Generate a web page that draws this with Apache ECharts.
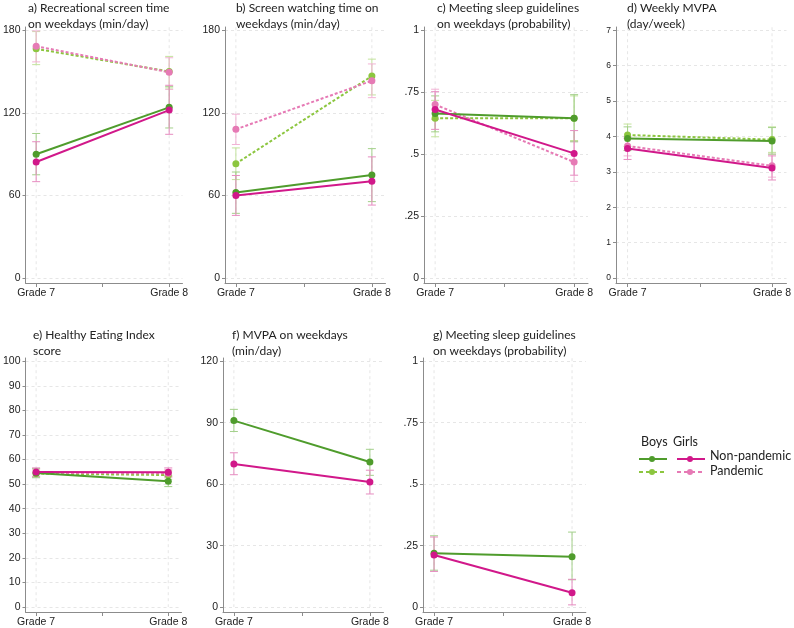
<!DOCTYPE html>
<html>
<head>
<meta charset="utf-8">
<script src="https://cdn.jsdelivr.net/npm/echarts@6/dist/echarts.min.js"></script>
<style>html,body{margin:0;background:#fff}#main{width:794px;height:628px}</style>
</head>
<body>
<div id="main"></div>
<script>
// grades on the x axis, one panel per outcome
var grades = ['Grade 7', 'Grade 8'];
var titles = [
    'a) Recreational screen time\non weekdays (min/day)',
    'b) Screen watching time on\nweekdays (min/day)',
    'c) Meeting sleep guidelines\non weekdays (probability)',
    'd) Weekly MVPA\n(day/week)',
    'e) Healthy Eating Index\nscore',
    'f) MVPA on weekdays\n(min/day)',
    'g) Meeting sleep guidelines\non weekdays (probability)'
];
var yTicks = [
    [0, 60, 120, 180],
    [0, 60, 120, 180],
    [0, 0.25, 0.5, 0.75, 1],
    [0, 1, 2, 3, 4, 5, 6, 7],
    [0, 10, 20, 30, 40, 50, 60, 70, 80, 90, 100],
    [0, 30, 60, 90, 120],
    [0, 0.25, 0.5, 0.75, 1]
];

// estimates per panel [grade 7, grade 8]; null = not shown
var boysNP      = [[89.9, 124.0], [62.1, 74.9], [0.664, 0.645], [3.94, 3.87], [54.5, 51.2], [91.0, 70.8], [0.219, 0.205]];
var boysNPLow   = [[75, 109], [47, 55.5], [0.59, 0.55], [3.6, 3.5], [52.6, 49], [85.7, 64.3], [0.15, 0.111]];
var boysNPHigh  = [[105, 139], [77, 94], [0.735, 0.74], [4.27, 4.25], [56.4, 53.4], [96.5, 77], [0.29, 0.305]];
var girlsNP     = [[84.3, 122.0], [59.9, 70.3], [0.68, 0.503], [3.66, 3.11], [54.9, 54.8], [69.8, 61.0], [0.212, 0.058]];
var girlsNPLow  = [[70, 104.4], [45.5, 53], [0.60, 0.415], [3.35, 2.77], [53.2, 53], [64.6, 55.2], [0.145, 0.009]];
var girlsNPHigh = [[99, 140], [74.5, 88], [0.752, 0.595], [3.95, 3.45], [56.6, 56.6], [75.3, 66.8], [0.285, 0.113]];
var boysP       = [[166.5, 150.0], [83.1, 146.7], [0.645, 0.645], [4.04, 3.91], [54.3, 53.7], null, null];
var boysPLow    = [[155, 138], [71.5, 133], [0.57, 0.555], [3.72, 3.55], [52.8, 52], null, null];
var boysPHigh   = [[179, 161], [94.5, 159], [0.717, 0.735], [4.35, 4.27], [55.8, 55.4], null, null];
var girlsP      = [[168.4, 149.5], [108.0, 143.3], [0.70, 0.468], [3.73, 3.17], [54.6, 54.4], null, null];
var girlsPLow   = [[157, 137], [97, 131], [0.64, 0.39], [3.45, 2.85], [53, 52.8], null, null];
var girlsPHigh  = [[179.5, 160], [119, 155.5], [0.762, 0.55], [4.0, 3.5], [56.2, 56], null, null];

var cGreen = '#4f9c2c', cLightGreen = '#8cc63f', cMagenta = '#d1188a', cPink = '#e67ab5';
var ciGreen = '#a3d08a', ciLightGreen = '#c3e39c', ciMagenta = '#e68cc0', ciPink = '#f2b3d5';
var axisGrey = '#8c8c8c', gridGrey = '#e6e6e6';

// panel boxes: [left, x of Grade 7, x of Grade 8, top]
var boxes = [[22, 33, 169, 27], [225, 236, 372, 27], [424, 436, 575, 27], [616, 628, 777, 27],
             [21, 32, 168, 358], [223, 234, 370, 358], [423, 434, 572, 358]];
var titlePos = [[28, 0], [236, 0], [437, 0], [627, 0], [33, 327], [232, 327], [433, 327]];

function fmt(v) { return String(v).replace(/^0\./, '.'); }

function errorBars(i, lows, highs, color, z) {
    return {
        type: 'custom', xAxisIndex: i, yAxisIndex: i, silent: true, z: z,
        encode: { x: 0, y: [1, 2] },
        data: lows.map(function(l, k) { return [k, l, highs[k]]; }),
        renderItem: function(params, api) {
            var lo = api.coord([api.value(0), api.value(1)]),
                hi = api.coord([api.value(0), api.value(2)]),
                w = 4, st = { stroke: color, lineWidth: 1 };
            return { type: 'group', children: [
                { type: 'line', shape: { x1: lo[0], y1: lo[1], x2: hi[0], y2: hi[1] }, style: st },
                { type: 'line', shape: { x1: lo[0] - w, y1: lo[1], x2: lo[0] + w, y2: lo[1] }, style: st },
                { type: 'line', shape: { x1: hi[0] - w, y1: hi[1], x2: hi[0] + w, y2: hi[1] }, style: st }
            ]};
        }
    };
}

function lineSeries(i, vals, color, dashed, z) {
    return {
        type: 'line', xAxisIndex: i, yAxisIndex: i, silent: true, z: z,
        data: vals.map(function(v, k) { return [k, v]; }),
        symbol: 'circle', symbolSize: 7,
        lineStyle: { color: color, width: 2, type: dashed ? [3, 2] : 'solid' },
        itemStyle: { color: color }
    };
}

var grids = [], xAxes = [], yAxes = [], series = [], titleOpts = [];

boxes.forEach(function(b, i) {
    var unit = b[2] - b[1], ticks = yTicks[i],
        lo = ticks[0], hi = ticks[ticks.length - 1], r = hi - lo;
    grids.push({ left: b[0], top: b[3], width: unit * 1.18, height: 256 });
    xAxes.push({
        gridIndex: i, type: 'value', min: -0.08, max: 1.1,
        axisLine: { onZero: false, lineStyle: { color: axisGrey } },
        axisTick: { customValues: [0, 0.5, 1], length: 4, lineStyle: { color: axisGrey } },
        axisLabel: { customValues: [0, 1], margin: 5, color: '#222', fontSize: 10.5, fontFamily: 'Liberation Sans',
                     formatter: function(v) { return grades[Math.round(v)]; } },
        splitLine: { show: false }
    });
    yAxes.push({
        gridIndex: i, type: 'value', min: lo - r * 0.02, max: hi + r * 0.013,
        axisLine: { show: true, onZero: false, lineStyle: { color: axisGrey } },
        axisTick: { show: true, customValues: ticks, length: 3, lineStyle: { color: axisGrey } },
        axisLabel: { customValues: ticks, margin: 5, color: '#222', fontFamily: 'Liberation Sans',
                     fontSize: i === 3 ? 8.5 : 10.5, formatter: fmt },
        splitLine: { show: true, lineStyle: { color: gridGrey, type: [3, 3] } }
    });
    titleOpts.push({
        text: titles[i], left: titlePos[i][0], top: titlePos[i][1], padding: 0,
        textStyle: { fontFamily: 'Lato', fontWeight: 'normal', fontSize: 12, lineHeight: 16, color: '#222' }
    });

    // vertical grid lines at both grades
    series.push({
        type: 'custom', xAxisIndex: i, yAxisIndex: i, silent: true, z: 0,
        data: [[0], [1]],
        renderItem: function(params, api) {
            var p1 = api.coord([api.value(0), hi]), p2 = api.coord([api.value(0), lo]);
            return { type: 'line', shape: { x1: p1[0], y1: p1[1] - 3, x2: p2[0], y2: p2[1] },
                     style: { stroke: gridGrey, lineWidth: 1, lineDash: [3, 3] } };
        }
    });

    if (boysP[i]) series.push(errorBars(i, boysPLow[i], boysPHigh[i], ciLightGreen, 1));
    if (girlsP[i]) series.push(errorBars(i, girlsPLow[i], girlsPHigh[i], ciPink, 1));
    series.push(errorBars(i, boysNPLow[i], boysNPHigh[i], ciGreen, 1));
    series.push(errorBars(i, girlsNPLow[i], girlsNPHigh[i], ciMagenta, 1));
    if (boysP[i]) series.push(lineSeries(i, boysP[i], cLightGreen, true, 2));
    if (girlsP[i]) series.push(lineSeries(i, girlsP[i], cPink, true, 2));
    series.push(lineSeries(i, boysNP[i], cGreen, false, 3));
    series.push(lineSeries(i, girlsNP[i], cMagenta, false, 3));
});

// legend, drawn by hand in the empty eighth cell
function legendKey(x, y, color, dashed) {
    return [
        { type: 'line', shape: { x1: x, y1: y, x2: x + 28, y2: y },
          style: { stroke: color, lineWidth: 2, lineDash: dashed ? [4, 3] : null } },
        { type: 'circle', shape: { cx: x + 13, cy: y, r: 3 }, style: { fill: color } }
    ];
}
var legendFont = { fontFamily: 'Lato', fontSize: 12.5, fill: '#222' };
var graphic = [].concat(
    legendKey(639, 459, cGreen, false), legendKey(677, 459, cMagenta, false),
    legendKey(639, 472, cLightGreen, true), legendKey(677, 472, cPink, true),
    [
        { type: 'text', x: 641, y: 442, style: Object.assign({ text: 'Boys', verticalAlign: 'middle' }, legendFont) },
        { type: 'text', x: 673, y: 442, style: Object.assign({ text: 'Girls', verticalAlign: 'middle' }, legendFont) },
        { type: 'text', x: 710, y: 456, style: Object.assign({ text: 'Non-pandemic', verticalAlign: 'middle' }, legendFont) },
        { type: 'text', x: 710, y: 471, style: Object.assign({ text: 'Pandemic', verticalAlign: 'middle' }, legendFont) }
    ]
);

var myChart = echarts.init(document.getElementById('main'));
myChart.setOption({
    animation: false,
    backgroundColor: '#fff',
    title: titleOpts,
    grid: grids,
    xAxis: xAxes,
    yAxis: yAxes,
    series: series,
    graphic: graphic
});
</script>
</body>
</html>
